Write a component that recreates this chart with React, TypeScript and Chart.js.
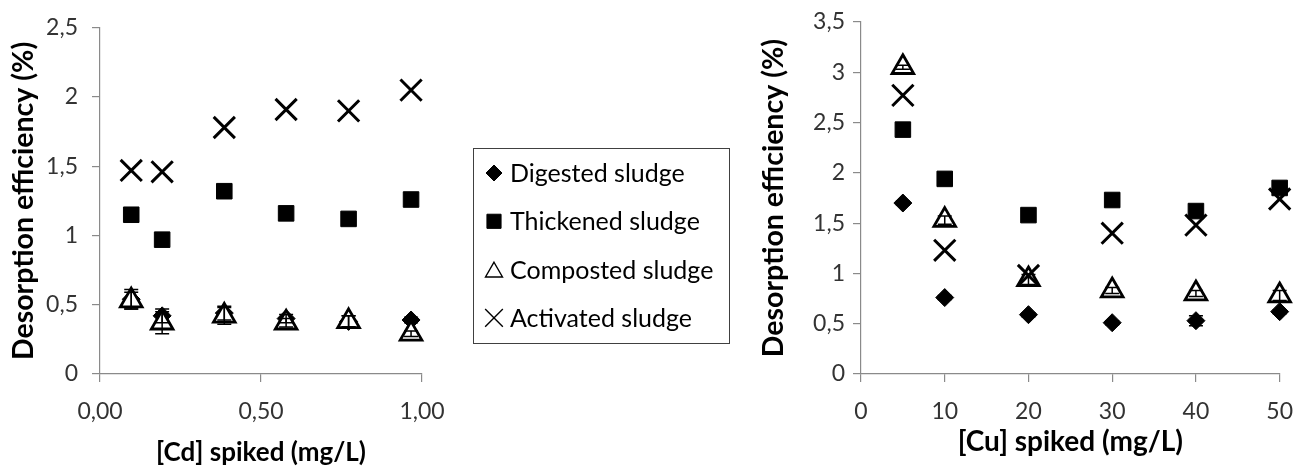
import { useEffect, useRef } from "react";
import { Chart, registerables } from "chart.js";
import { drawPoint } from "chart.js/helpers";

Chart.register(...registerables);

// ---- Data ----
const seriesNames = ["Digested sludge", "Thickened sludge", "Composted sludge", "Activated sludge"];

// Cadmium panel
const cdSpiked = [0.097, 0.193, 0.386, 0.578, 0.772, 0.966];
const cdDigested = [0.54, 0.42, 0.44, 0.4, 0.38, 0.39];
const cdThickened = [1.15, 0.97, 1.32, 1.16, 1.12, 1.26];
const cdComposted = [0.53, 0.37, 0.42, 0.37, 0.38, 0.29];
const cdActivated = [1.47, 1.46, 1.78, 1.91, 1.9, 2.05];
const cdDigestedErr = [0.07, 0.05, 0.05, 0.03, 0.04, 0.02];
const cdCompostedErr = [0.06, 0.08, 0.06, 0.03, 0.04, 0.02];
const cdXTicks = [0, 0.5, 1];
const cdXTickLabels = ["0,00", "0,50", "1,00"];
const cdYTicks = [0, 0.5, 1, 1.5, 2, 2.5];
const cdYTickLabels = ["0", "0,5", "1", "1,5", "2", "2,5"];

// Copper panel
const cuSpiked = [5, 10, 20, 30, 40, 50];
const cuDigested = [1.7, 0.76, 0.59, 0.51, 0.53, 0.62];
const cuThickened = [2.43, 1.94, 1.58, 1.73, 1.62, 1.85];
const cuComposted = [3.05, 1.53, 0.94, 0.83, 0.8, 0.78];
const cuActivated = [2.77, 1.23, 0.98, 1.4, 1.48, 1.74];
const cuDigestedErr = [0.02, 0.02, 0.02, 0.02, 0.05, 0.02];
const cuCompostedErr = [0.02, 0.04, 0.05, 0.03, 0.03, 0.05];
const cuXTicks = [0, 10, 20, 30, 40, 50];
const cuXTickLabels = ["0", "10", "20", "30", "40", "50"];
const cuYTicks = [0, 0.5, 1, 1.5, 2, 2.5, 3, 3.5];
const cuYTickLabels = ["0", "0,5", "1", "1,5", "2", "2,5", "3", "3,5"];

const FONT = "Lato, 'Open Sans', 'Noto Sans', sans-serif";
const AXIS_GRAY = "#8a8a8a";
const TICK_COLOR = "#333333";

// marker look per series: diamond, square, open triangle, x
const markerStyles = [
  { pointStyle: "rectRot", radius: 9, backgroundColor: "#000", borderColor: "#000", borderWidth: 1 },
  { pointStyle: "rect", radius: 11, backgroundColor: "#000", borderColor: "#000", borderWidth: 1 },
  { pointStyle: "triangle", radius: 12.5, backgroundColor: "#fff", borderColor: "#000", borderWidth: 2.8 },
  { pointStyle: "crossRot", radius: 15, backgroundColor: "#000", borderColor: "#000", borderWidth: 3 },
];

const legendMarkers = [
  { pointStyle: "rectRot", radius: 8, fill: "#000", lineWidth: 1 },
  { pointStyle: "rect", radius: 10, fill: "#000", lineWidth: 1 },
  { pointStyle: "triangle", radius: 9.8, fill: "#fff", lineWidth: 1.4 },
  { pointStyle: "crossRot", radius: 12.5, fill: "#000", lineWidth: 1.4 },
];

const pairs = (xs: number[], ys: number[]) => xs.map((x, i) => ({ x, y: ys[i] }));

function makeDatasets(xs: number[], series: number[][], errors: (number[] | null)[]) {
  return series.map((ys, i) => ({
    label: seriesNames[i],
    data: pairs(xs, ys),
    showLine: false,
    clip: false,
    order: 4 - i,
    errors: errors[i],
    pointStyle: markerStyles[i].pointStyle,
    pointRadius: markerStyles[i].radius,
    pointHoverRadius: markerStyles[i].radius,
    pointBackgroundColor: markerStyles[i].backgroundColor,
    pointBorderColor: markerStyles[i].borderColor,
    pointBorderWidth: markerStyles[i].borderWidth,
    backgroundColor: markerStyles[i].backgroundColor,
    borderColor: markerStyles[i].borderColor,
  }));
}

// vertical error bars with caps, drawn over the markers
const errorBarPlugin = {
  id: "errorBars",
  afterDatasetsDraw(chart: any) {
    const ctx = chart.ctx;
    const yScale = chart.scales.y;
    ctx.save();
    ctx.strokeStyle = "#000";
    ctx.lineWidth = 1.5;
    chart.data.datasets.forEach((ds: any, di: number) => {
      if (!ds.errors) return;
      const meta = chart.getDatasetMeta(di);
      meta.data.forEach((pt: any, i: number) => {
        const e = ds.errors[i];
        if (!e) return;
        const v = ds.data[i].y;
        const top = yScale.getPixelForValue(v + e);
        const bot = yScale.getPixelForValue(v - e);
        const x = pt.x;
        ctx.beginPath();
        ctx.moveTo(x, top);
        ctx.lineTo(x, bot);
        ctx.moveTo(x - 7, top);
        ctx.lineTo(x + 7, top);
        ctx.moveTo(x - 7, bot);
        ctx.lineTo(x + 7, bot);
        ctx.stroke();
      });
    });
    ctx.restore();
  },
};

// boxed legend drawn in the space right of the cadmium panel
const boxLegendPlugin = {
  id: "boxLegend",
  afterDraw(chart: any) {
    const ctx = chart.ctx;
    const box = { left: 473, top: 148, width: 256, height: 195 };
    ctx.save();
    ctx.strokeStyle = "#404040";
    ctx.lineWidth = 1;
    ctx.strokeRect(box.left + 0.5, box.top + 0.5, box.width, box.height);
    ctx.font = `25px ${FONT}`;
    ctx.fillStyle = "#000";
    ctx.textBaseline = "alphabetic";
    ctx.textAlign = "left";
    chart.data.datasets.forEach((ds: any, i: number) => {
      const baseline = 182 + i * 48.3;
      const mk = legendMarkers[i];
      const cy = baseline - 9 + (mk.pointStyle === "triangle" ? mk.radius / 4 : 0);
      ctx.save();
      ctx.fillStyle = mk.fill;
      ctx.strokeStyle = "#000";
      ctx.lineWidth = mk.lineWidth;
      drawPoint(ctx, { pointStyle: mk.pointStyle, radius: mk.radius, borderWidth: mk.lineWidth, rotation: 0 } as any, 494, cy);
      ctx.restore();
      ctx.fillStyle = "#000";
      ctx.fillText(ds.label, 510, baseline);
    });
    ctx.restore();
  },
};

interface PanelOpts {
  xTicks: number[];
  xTickLabels: string[];
  yTicks: number[];
  yTickLabels: string[];
  xTitle: string;
  xTitleSize: number;
  yAxisWidth: number;
  xAxisHeight: number;
  padding: { left: number; right: number; top: number; bottom: number };
  yTitlePad: number;
  xTitlePad: number;
  yTickPad: number;
}

function makeConfig(datasets: any[], o: PanelOpts, plugins: any[]) {
  const labelFor = (values: number[], labels: string[]) => (v: any) => {
    const idx = values.findIndex((t) => Math.abs(t - Number(v)) < 1e-9);
    return idx >= 0 ? labels[idx] : "";
  };
  return {
    type: "scatter",
    data: { datasets },
    plugins,
    options: {
      responsive: false,
      animation: false,
      events: [],
      layout: { padding: o.padding },
      plugins: { legend: { display: false }, tooltip: { enabled: false } },
      scales: {
        x: {
          type: "linear",
          min: o.xTicks[0],
          max: o.xTicks[o.xTicks.length - 1],
          afterBuildTicks: (s: any) => {
            s.ticks = o.xTicks.map((value) => ({ value }));
          },
          afterFit: (s: any) => {
            s.height = o.xAxisHeight;
          },
          grid: { display: true, drawOnChartArea: false, drawTicks: true, tickLength: 8, color: AXIS_GRAY, lineWidth: 1.2 },
          border: { display: true, color: AXIS_GRAY, width: 1.2 },
          ticks: {
            callback: labelFor(o.xTicks, o.xTickLabels),
            font: { family: FONT, size: 23 },
            color: TICK_COLOR,
            padding: 16,
            maxRotation: 0,
            autoSkip: false,
          },
          title: {
            display: true,
            text: o.xTitle,
            font: { family: FONT, size: o.xTitleSize, weight: "bold" },
            color: "#000",
            padding: { top: 0, bottom: o.xTitlePad },
          },
        },
        y: {
          type: "linear",
          min: o.yTicks[0],
          max: o.yTicks[o.yTicks.length - 1],
          afterBuildTicks: (s: any) => {
            s.ticks = o.yTicks.map((value) => ({ value }));
          },
          afterFit: (s: any) => {
            s.width = o.yAxisWidth;
          },
          grid: { display: true, drawOnChartArea: false, drawTicks: true, tickLength: 8, color: AXIS_GRAY, lineWidth: 1.2 },
          border: { display: true, color: AXIS_GRAY, width: 1.2 },
          ticks: {
            callback: labelFor(o.yTicks, o.yTickLabels),
            font: { family: FONT, size: 23 },
            color: TICK_COLOR,
            padding: o.yTickPad,
            autoSkip: false,
          },
          title: {
            display: true,
            text: "Desorption efficiency (%)",
            font: { family: FONT, size: 28.5, weight: "bold" },
            color: "#000",
            padding: { top: o.yTitlePad, bottom: 0 },
          },
        },
      },
    },
  } as any;
}

export default function App() {
  const cdRef = useRef<HTMLCanvasElement>(null);
  const cuRef = useRef<HTMLCanvasElement>(null);

  useEffect(() => {
    if (!cdRef.current || !cuRef.current) return;

    const cdChart = new Chart(
      cdRef.current,
      makeConfig(
        makeDatasets(cdSpiked, [cdDigested, cdThickened, cdComposted, cdActivated], [cdDigestedErr, null, cdCompostedErr, null]),
        {
          xTicks: cdXTicks,
          xTickLabels: cdXTickLabels,
          yTicks: cdYTicks,
          yTickLabels: cdYTickLabels,
          xTitle: "[Cd] spiked (mg/L)",
          xTitleSize: 26,
          yAxisWidth: 100,
          xAxisHeight: 96,
          padding: { left: 0, right: 318, top: 21, bottom: 0 },
          yTitlePad: 7,
          xTitlePad: 2,
          yTickPad: 14,
        },
        [errorBarPlugin, boxLegendPlugin]
      )
    );

    const cuChart = new Chart(
      cuRef.current,
      makeConfig(
        makeDatasets(cuSpiked, [cuDigested, cuThickened, cuComposted, cuActivated], [cuDigestedErr, null, cuCompostedErr, null]),
        {
          xTicks: cuXTicks,
          xTickLabels: cuXTickLabels,
          yTicks: cuYTicks,
          yTickLabels: cuYTickLabels,
          xTitle: "[Cu] spiked (mg/L)",
          xTitleSize: 28,
          yAxisWidth: 121,
          xAxisHeight: 96,
          padding: { left: 0, right: 17, top: 22, bottom: 0 },
          yTitlePad: 17,
          xTitlePad: 11,
          yTickPad: 8,
        },
        [errorBarPlugin]
      )
    );

    return () => {
      cdChart.destroy();
      cuChart.destroy();
    };
  }, []);

  return (
    <div
      style={{
        position: "absolute",
        left: 0,
        top: 0,
        width: 1309,
        height: 470,
        background: "#fff",
        overflow: "hidden",
      }}
    >
      <canvas ref={cdRef} width={740} height={470} style={{ position: "absolute", left: 0, top: 0 }} />
      <canvas ref={cuRef} width={569} height={470} style={{ position: "absolute", left: 740, top: 0 }} />
    </div>
  );
}
